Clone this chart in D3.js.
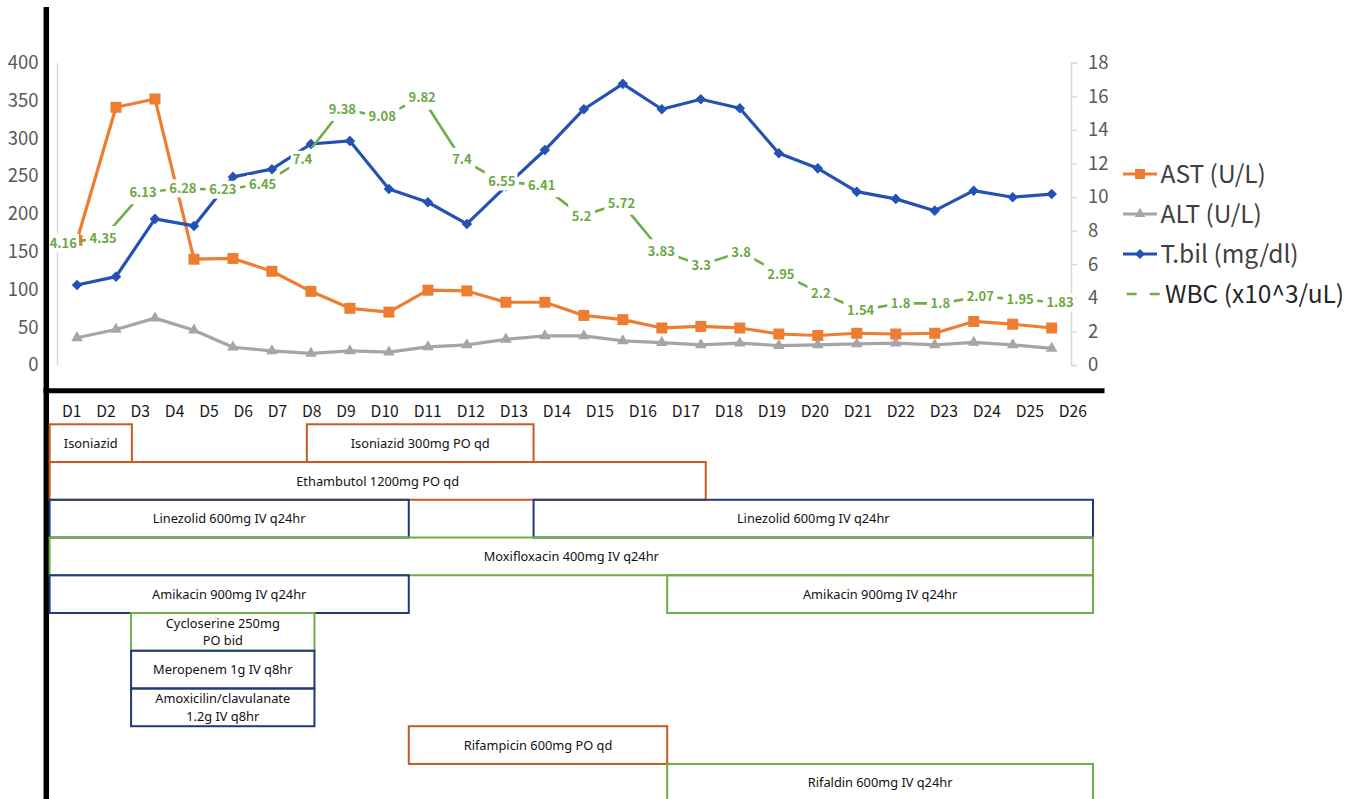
<!DOCTYPE html>
<html>
<head>
<meta charset="utf-8">
<script src="https://cdn.jsdelivr.net/npm/d3@7"></script>
<style>
  html, body { margin: 0; padding: 0; background: #fff; }
  svg { display: block; }
  svg { font-family: "Noto Sans CJK KR", "Noto Sans", sans-serif; }
</style>
</head>
<body>
<svg id="chart" width="1355" height="799"></svg>
<script>
// ---------------- DATA ----------------
const days = ["D1","D2","D3","D4","D5","D6","D7","D8","D9","D10","D11","D12","D13",
              "D14","D15","D16","D17","D18","D19","D20","D21","D22","D23","D24","D25","D26"];
const ast  = [165,341,352,140,141,124,97.5,75,70,99,98,83,83,65.6,60,49,51,49,41,39,42,41,42,57.6,54,49];
const alt  = [36,47,62,46,23.5,18.6,15.5,18.6,17,24,26.6,34,38.6,38.6,32,29.7,26.6,29,25.7,26.6,28,29,26.6,30,26.6,22];
const tbil = [4.76,5.26,8.7,8.28,11.2,11.66,13.16,13.34,10.48,9.69,8.4,10.64,12.8,15.23,16.74,15.23,15.82,15.29,12.61,11.71,10.32,9.89,9.19,10.38,9.99,10.18];
const wbc  = [4.16,4.35,6.13,6.28,6.23,6.45,7.4,9.38,9.08,9.82,7.4,6.55,6.41,5.2,5.72,3.83,3.3,3.8,2.95,2.2,1.54,1.8,1.8,2.07,1.95,1.83];
const leftTicks  = [0,50,100,150,200,250,300,350,400];
const rightTicks = [0,2,4,6,8,10,12,14,16,18];
const seriesNames = ["AST (U/L)","ALT (U/L)","T.bil (mg/dl)","WBC (x10^3/uL)"];

// drug regimen bars: row, start day, end day (fractional day units), colour group
const drugNames  = ["Isoniazid","Isoniazid 300mg PO qd","Ethambutol 1200mg PO qd",
  "Linezolid 600mg IV q24hr","Linezolid 600mg IV q24hr","Moxifloxacin 400mg IV q24hr",
  "Amikacin 900mg IV q24hr","Amikacin 900mg IV q24hr","Cycloserine 250mg\nPO bid",
  "Meropenem 1g IV q8hr","Amoxicilin/clavulanate\n1.2g IV q8hr","Rifampicin 600mg PO qd",
  "Rifaldin 600mg IV q24hr"];
const drugRows   = [0,0,1,2,2,3,4,4,5,6,7,8,9];
const drugStart  = [0,6.41,0,0,12.06,0,0,15.39,2.03,2.03,2.03,8.95,15.39];
const drugEnd    = [2.05,12.06,16.35,8.95,26,26,8.95,26,6.6,6.6,6.6,15.39,26];
const drugGroup  = ["a","a","a","b","b","c","b","c","c","b","b","a","c"];

// ---------------- SETUP ----------------
const svg = d3.select("#chart");
svg.append("rect").attr("width",1355).attr("height",799).attr("fill","#fff");
const defs = svg.append("defs");

const C = { ast:"#ED7D31", alt:"#A5A5A5", tbil:"#2352B4", wbc:"#70AD47" };
const FONT_CJK = "'Noto Sans CJK KR','Noto Sans',sans-serif";
const FONT_LAT = "'Noto Sans',sans-serif";

const x  = d3.scalePoint().domain(days).range([77, 1051.7]);
const xW = d3.scalePoint().domain(days).range([63.3, 1060]);
const yL = d3.scaleLinear().domain([0,400]).range([365, 62.7]);
const yR = d3.scaleLinear().domain([0,18]).range([365, 62.7]);
const yW = d3.scaleLinear().domain([0,12]).range([349.5, 41.8]);

// ---------------- AXES ----------------
const gL = svg.append("g").attr("transform","translate(57,0)")
  .call(d3.axisLeft(yL).tickValues(leftTicks).tickSize(0).tickPadding(18.5));
gL.select(".domain").attr("stroke","#d9d9d9").attr("stroke-width",1.5);
gL.selectAll("text").style("font-size","18.5px").attr("fill","#595959")
  .style("font-family",FONT_CJK);

const gR = svg.append("g").attr("transform","translate(1071,0)")
  .call(d3.axisRight(yR).tickValues(rightTicks).tickSize(6).tickPadding(11));
gR.select(".domain").attr("stroke","#d9d9d9").attr("stroke-width",1.5);
gR.selectAll(".tick line").attr("stroke","#d9d9d9").attr("stroke-width",1.5);
gR.selectAll("text").style("font-size","18.5px").attr("fill","#595959")
  .style("font-family",FONT_CJK);

// ---------------- SERIES ----------------
function drawSeries(vals, xs, ys, color, sym, size, rot, width) {
  const g = svg.append("g");
  const line = d3.line().x((d,i)=>xs(days[i])).y(d=>ys(d));
  const p = g.append("path").datum(vals).attr("d", line).attr("fill","none")
    .attr("stroke", color).attr("stroke-width", width).attr("stroke-linejoin","round");
  if (sym) {
    g.selectAll("path.m").data(vals).join("path").attr("class","m")
      .attr("d", d3.symbol(sym, size)())
      .attr("transform",(d,i)=>`translate(${xs(days[i])},${ys(d)}) rotate(${rot})`)
      .attr("fill", color);
  }
  return p;
}
drawSeries(ast,  x, yL, C.ast,  d3.symbolSquare,   121, 0, 3.2);
drawSeries(alt,  x, yL, C.alt,  d3.symbolTriangle, 58,  0, 3.2);
drawSeries(tbil, x, yR, C.tbil, d3.symbolSquare,   56,  45, 3.2);
const wbcPath = drawSeries(wbc,  xW, yW, C.wbc, null, 0, 0, 2.6);

// WBC data labels with white background
const lab = svg.append("g").selectAll("g").data(wbc).join("g")
  .attr("transform",(d,i)=>`translate(${xW(days[i])},${yW(d)})`);
lab.append("rect").attr("fill","#fff");
lab.append("text").text(d=>d).attr("text-anchor","middle").attr("dy","0.36em")
  .style("font-family",FONT_CJK).style("font-size","13px").style("font-weight","bold")
  .attr("fill","#6AA843");
const labW = [];
lab.each(function(){
  const t = d3.select(this).select("text").node();
  const w = t.getComputedTextLength();
  labW.push(w);
  d3.select(this).select("rect").attr("x",-w/2-2).attr("y",-9).attr("width",w+4).attr("height",18);
});
// the WBC line itself leaves a wider gap round its own labels
const mask = defs.append("mask").attr("id","wbcMask").attr("maskUnits","userSpaceOnUse")
  .attr("x",0).attr("y",0).attr("width",1355).attr("height",799);
mask.append("rect").attr("width",1355).attr("height",799).attr("fill","#fff");
mask.selectAll("rect.h").data(wbc).join("rect").attr("class","h")
  .attr("x",(d,i)=>xW(days[i]) - labW[i]/2 - 3.5).attr("y",(d)=>yW(d) - 12)
  .attr("width",(d,i)=>labW[i] + 7).attr("height",24).attr("fill","#000");
wbcPath.attr("mask","url(#wbcMask)");

// ---------------- LEGEND ----------------
const leg = svg.append("g");
const legY = d3.scaleLinear().domain([0,3]).range([174, 294]);
const legSpec = [
  {c:C.ast, sym:d3.symbolSquare, s:100, r:0},
  {c:C.alt, sym:d3.symbolTriangle, s:50, r:0},
  {c:C.tbil, sym:d3.symbolSquare, s:50, r:45},
  {c:C.wbc, sym:null}
];
seriesNames.forEach((name,i)=>{
  const y = legY(i), sp = legSpec[i];
  if (sp.sym) {
    leg.append("line").attr("x1",1123).attr("x2",1157).attr("y1",y).attr("y2",y)
      .attr("stroke",sp.c).attr("stroke-width",3.2);
    leg.append("path").attr("d",d3.symbol(sp.sym, sp.s)())
      .attr("transform",`translate(1140,${y}) rotate(${sp.r})`).attr("fill",sp.c);
    leg.append("text").attr("x",1160.5).attr("y",y).attr("dy","0.35em").text(name)
      .style("font-family",FONT_CJK).style("font-size","24.5px").attr("fill","#404040");
  } else {
    leg.append("line").attr("x1",1126.7).attr("x2",1166).attr("y1",y).attr("y2",y)
      .attr("stroke",sp.c).attr("stroke-width",2.6).attr("stroke-dasharray","10,13");
    leg.append("text").attr("x",1165).attr("y",y).attr("dy","0.35em").text(name)
      .style("font-family",FONT_CJK).style("font-size","24.5px").attr("fill","#262626");
  }
});

// ---------------- FRAME LINES ----------------
svg.append("line").attr("x1",46.3).attr("x2",46.3).attr("y1",7).attr("y2",799)
  .attr("stroke","#000").attr("stroke-width",5.5);
svg.append("line").attr("x1",43.5).attr("x2",1104.5).attr("y1",390.7).attr("y2",390.7)
  .attr("stroke","#000").attr("stroke-width",5);

// ---------------- DAY LABELS (laid out sequentially) ----------------
const dl = svg.append("g").selectAll("text").data(days).join("text")
  .text(d=>d).style("font-family",FONT_CJK).style("font-size","15.7px").attr("fill","#1a1a1a")
  .attr("y",411.7).attr("dy","0.36em");
const widths = [];
dl.each(function(){ widths.push(this.getComputedTextLength()); });
const spanL = 62, spanR = 1087;
const gap = (spanR - spanL - d3.sum(widths)) / (days.length - 1);
let cx = spanL;
dl.each(function(d,i){ d3.select(this).attr("x", cx); cx += widths[i] + gap; });

// ---------------- DRUG BARS ----------------
const xD = d3.scaleLinear().domain([0,26]).range([49.6, 1093]);
const yD = d3.scaleLinear().domain([0,10]).range([424.3, 801.7]);
const drugColor = d3.scaleOrdinal().domain(["a","b","c"]).range(["#C55A22","#1F3A7A","#70AD47"]);
const bars = svg.append("g").selectAll("g").data(drugNames).join("g");
bars.append("rect")
  .attr("x",(d,i)=>xD(drugStart[i])).attr("y",(d,i)=>yD(drugRows[i]))
  .attr("width",(d,i)=>xD(drugEnd[i])-xD(drugStart[i]))
  .attr("height",(d,i)=>yD(drugRows[i]+1)-yD(drugRows[i]))
  .attr("fill","none").attr("stroke",(d,i)=>drugColor(drugGroup[i])).attr("stroke-width",2);
bars.each(function(d,i){
  const lines = d.split("\n");
  const cxm = (xD(drugStart[i]) + xD(drugEnd[i])) / 2;
  const cym = (yD(drugRows[i]) + yD(drugRows[i]+1)) / 2;
  const t = d3.select(this).append("text").attr("text-anchor","middle")
    .style("font-family",FONT_LAT).style("font-size","12.8px").attr("fill","#111");
  const lh = 17.5;
  lines.forEach((ln,k)=>{
    t.append("tspan").attr("x",cxm)
      .attr("y", cym + (k - (lines.length-1)/2) * lh).attr("dy","0.36em").text(ln);
  });
});
</script>
</body>
</html>
